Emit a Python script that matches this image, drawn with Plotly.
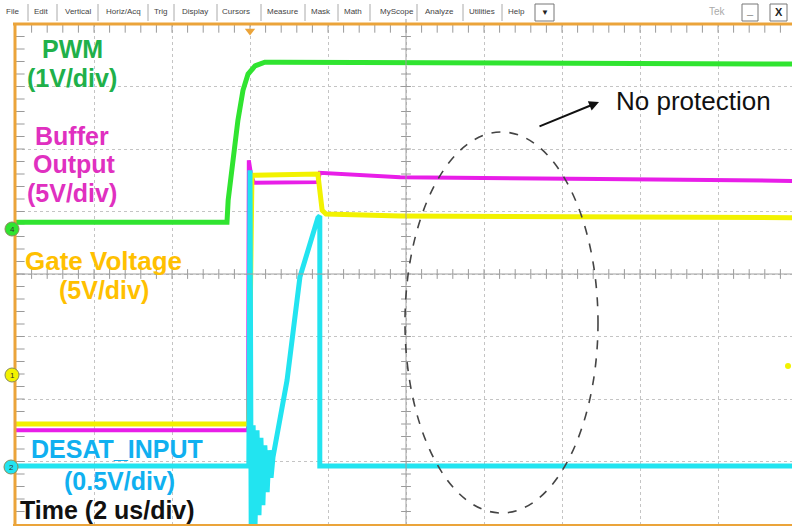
import numpy as np
import plotly.graph_objects as go

# ---------------- data (time in us, amplitude in divisions) ----------------
pwm_t = [0.0, 5.41, 5.44, 5.56, 5.69, 5.82, 5.95, 6.13, 6.38, 6.77, 9.85, 14.97, 19.9]
pwm_v = [0.83, 0.83, 1.18, 1.82, 2.46, 2.94, 3.20, 3.33, 3.39, 3.39, 3.38, 3.36, 3.36]

buf_t = [0.0, 5.95, 5.97, 6.03, 6.10, 7.74, 7.79, 9.85, 14.97, 19.9]
buf_v = [-2.50, -2.50, 1.82, 1.58, 1.46, 1.47, 1.62, 1.55, 1.52, 1.49]

gate_t = [0.0, 5.97, 6.05, 7.74, 7.85, 7.95, 9.85, 19.9]
gate_v = [-2.40, -2.40, 1.58, 1.60, 1.02, 0.96, 0.93, 0.90]

desat_t = [0.0, 5.97, 6.00, 6.03, 6.08, 6.13, 6.18, 6.23, 6.28, 6.33, 6.38, 6.44,
           6.49, 6.54, 6.59, 6.95, 7.28, 7.74, 7.79, 7.79, 19.9]
desat_v = [-3.07, -3.07, 1.66, -4.0, -2.42, -4.0, -2.50, -3.86, -2.62, -3.70, -2.74, -3.49,
           -2.82, -3.26, -2.93, -1.70, -0.05, 0.90, 0.93, -3.07, -3.07]

labels = ["PWM", "(1V/div)", "Buffer", "Output", "(5V/div)", "Gate Voltage", "(5V/div)",
          "DESAT_INPUT", "(0.5V/div)", "Time (2 us/div)"]
menu_items = ["File", "Edit", "Vertical", "Horiz/Acq", "Trig", "Display", "Cursors",
              "Measure", "Mask", "Math", "MyScope", "Analyze", "Utilities", "Help"]
channel_ids = ["4", "1", "2"]

# ---------------- pixel helpers (layout only) ----------------
W, H = 792, 526
L, T, B = 16, 24, 2
PX_PER_US = 39.0
PX_PER_DIV = 62.5


def px(x):
    return (x - L) / PX_PER_US


def py(y):
    return (274 - y) / PX_PER_DIV


def paper_x(x):
    return (x - L) / (W - L)


def paper_y(y):
    return (H - B - y) / (H - T - B)


GREEN = "#30e430"
MAGENTA = "#e81ee8"
YELLOW = "#f2f200"
CYAN = "#22e4f0"
ORANGE = "#eba43a"

fig = go.Figure()

# minor ticks on centre lines and border (decorative graticule)
tx = np.arange(0.4, 19.9, 0.4)
ty = np.arange(-3.8, 4.0, 0.2)
fig.add_trace(go.Scatter(x=tx, y=[0] * len(tx), mode="markers", hoverinfo="skip",
                         marker=dict(symbol="line-ns", size=7, line=dict(color="#9a9a9a", width=1))))
fig.add_trace(go.Scatter(x=[10] * len(ty), y=ty, mode="markers", hoverinfo="skip",
                         marker=dict(symbol="line-ew", size=7, line=dict(color="#9a9a9a", width=1))))
fig.add_trace(go.Scatter(x=[px(19)] * len(ty), y=ty, mode="markers", hoverinfo="skip",
                         marker=dict(symbol="line-ew", size=8, line=dict(color="#9a9a9a", width=1))))
fig.add_trace(go.Scatter(x=tx, y=[py(28.5)] * len(tx), mode="markers", hoverinfo="skip",
                         marker=dict(symbol="line-ns", size=6, line=dict(color="#9a9a9a", width=1))))

# waveforms
fig.add_trace(go.Scatter(x=buf_t, y=buf_v, mode="lines", line=dict(color=MAGENTA, width=4)))
fig.add_trace(go.Scatter(x=gate_t, y=gate_v, mode="lines", line=dict(color=YELLOW, width=5)))
fig.add_trace(go.Scatter(x=pwm_t, y=pwm_v, mode="lines", line=dict(color=GREEN, width=5)))
fig.add_trace(go.Scatter(x=desat_t, y=desat_v, mode="lines", line=dict(color=CYAN, width=5)))

# reference dot at right edge and trigger marker
fig.add_trace(go.Scatter(x=[px(788)], y=[py(366)], mode="markers", cliponaxis=False,
                         marker=dict(size=6, color=YELLOW)))
fig.add_trace(go.Scatter(x=[px(250)], y=[py(31)], mode="markers", cliponaxis=False,
                         marker=dict(symbol="triangle-down", size=9, color=ORANGE)))

shapes = []
# centre lines
shapes.append(dict(type="line", xref="x", yref="paper", x0=10, x1=10, y0=0, y1=paper_y(19),
                   line=dict(color="#a0a0a0", width=1)))
shapes.append(dict(type="line", xref="paper", yref="y", x0=0, x1=1, y0=0, y1=0,
                   line=dict(color="#a0a0a0", width=1)))
# orange frame
shapes.append(dict(type="line", xref="paper", yref="paper", x0=paper_x(15), x1=paper_x(15),
                   y0=paper_y(24), y1=paper_y(526), line=dict(color=ORANGE, width=3)))
shapes.append(dict(type="line", xref="paper", yref="paper", x0=paper_x(13), x1=1,
                   y0=paper_y(24), y1=paper_y(24), line=dict(color=ORANGE, width=3)))
shapes.append(dict(type="line", xref="paper", yref="paper", x0=paper_x(13), x1=1,
                   y0=paper_y(525), y1=paper_y(525), line=dict(color=ORANGE, width=2)))
# dashed ellipse
shapes.append(dict(type="circle", xref="x", yref="y", x0=px(405), x1=px(598), y0=py(513), y1=py(132),
                   line=dict(color="#444", width=1.6, dash="dash")))
# menu separators
for sx in [28, 57, 98, 148, 174, 217, 261, 305, 338, 370, 417, 463, 502]:
    shapes.append(dict(type="line", xref="paper", yref="paper", x0=paper_x(sx), x1=paper_x(sx),
                       y0=paper_y(4), y1=paper_y(21), line=dict(color="#aaa", width=1)))
# menu buttons
for bx0, bx1 in [(535, 554), (742, 758), (770, 787)]:
    shapes.append(dict(type="rect", xref="paper", yref="paper", x0=paper_x(bx0), x1=paper_x(bx1),
                       y0=paper_y(4), y1=paper_y(21), line=dict(color="#777", width=1)))
# channel reference markers (left edge)
ch_pos = [(12, 229, GREEN), (12, 375, YELLOW), (11, 467, CYAN)]
for cx, cy, col in ch_pos:
    shapes.append(dict(type="circle", xref="paper", yref="paper",
                       x0=paper_x(cx - 7), x1=paper_x(cx + 7), y0=paper_y(cy + 7), y1=paper_y(cy - 7),
                       fillcolor=col, line=dict(color="#8a8a5a", width=1), layer="above"))

annotations = []
menu_x = [12, 41, 78, 123, 160, 195, 236, 283, 321, 353, 397, 440, 482, 516]
for name, mx in zip(menu_items, menu_x):
    annotations.append(dict(xref="paper", yref="paper", x=paper_x(mx), y=paper_y(12), text=name,
                            showarrow=False, xanchor="center", yanchor="middle",
                            font=dict(size=8, color="#444", family="Liberation Sans")))
annotations.append(dict(xref="paper", yref="paper", x=paper_x(544.5), y=paper_y(12), text="▼",
                        showarrow=False, xanchor="center", yanchor="middle",
                        font=dict(size=8, color="#222")))
annotations.append(dict(xref="paper", yref="paper", x=paper_x(717), y=paper_y(12), text="Tek",
                        showarrow=False, xanchor="center", yanchor="middle",
                        font=dict(size=10, color="#aaa", family="Liberation Sans")))
annotations.append(dict(xref="paper", yref="paper", x=paper_x(750), y=paper_y(10), text="<b>_</b>",
                        showarrow=False, xanchor="center", yanchor="middle",
                        font=dict(size=11, color="#222", family="Liberation Sans")))
annotations.append(dict(xref="paper", yref="paper", x=paper_x(778.5), y=paper_y(12), text="<b>X</b>",
                        showarrow=False, xanchor="center", yanchor="middle",
                        font=dict(size=11, color="#222", family="Liberation Sans")))
for (cx, cy, col), cid in zip(ch_pos, channel_ids):
    annotations.append(dict(xref="paper", yref="paper", x=paper_x(cx), y=paper_y(cy), text=cid,
                            showarrow=False, xanchor="center", yanchor="middle",
                            font=dict(size=8, color="#333", family="Liberation Sans")))

label_style = [
    (labels[0], 72, 49, "#20b04a", 25),
    (labels[1], 72, 78, "#20b04a", 25),
    (labels[2], 72, 136, "#e030c0", 25),
    (labels[3], 74, 164, "#e030c0", 25),
    (labels[4], 72, 193, "#e030c0", 25),
    (labels[5], 103, 261, "#ffc000", 26),
    (labels[6], 104, 290, "#ffc000", 25),
    (labels[7], 117, 449, "#10b0f0", 25),
    (labels[8], 119, 481, "#10b0f0", 25),
    (labels[9], 107, 510, "#111111", 25),
]
for txt, lx, ly, col, fs in label_style:
    annotations.append(dict(xref="x", yref="y", x=px(lx), y=py(ly), text="<b>" + txt + "</b>",
                            showarrow=False, xanchor="center", yanchor="middle",
                            font=dict(size=fs, color=col, family="Liberation Sans")))

annotations.append(dict(xref="x", yref="y", x=px(599), y=py(102), ax=px(538), ay=py(127),
                        axref="x", ayref="y", text="", showarrow=True, arrowhead=2,
                        arrowsize=1, arrowwidth=2, arrowcolor="#111"))
annotations.append(dict(xref="x", yref="y", x=px(614), y=py(101), text="No protection",
                        showarrow=False, xanchor="left", yanchor="middle",
                        font=dict(size=26, color="#111", family="Liberation Sans")))

fig.update_layout(
    width=W, height=H,
    margin=dict(l=L, r=0, t=T, b=B),
    paper_bgcolor="white", plot_bgcolor="white",
    showlegend=False,
    shapes=shapes, annotations=annotations,
    xaxis=dict(range=[0, (W - L) / PX_PER_US], showticklabels=False, zeroline=False,
               showgrid=True, gridcolor="#c4c4c4", griddash="dot", gridwidth=1,
               tick0=0, dtick=2, ticks="", fixedrange=True),
    yaxis=dict(range=[-4, 4], showticklabels=False, zeroline=False,
               showgrid=True, gridcolor="#c4c4c4", griddash="dot", gridwidth=1,
               tick0=0, dtick=1, ticks="", fixedrange=True),
)

fig.write_html("out.html", config={"displayModeBar": False},
               post_script="document.body.style.margin='0px';document.body.style.overflow='hidden';")
